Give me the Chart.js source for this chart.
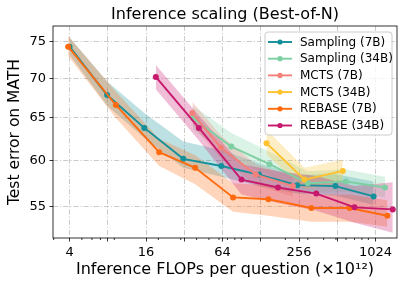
<!DOCTYPE html>
<html><head><meta charset="utf-8">
<script src="https://cdn.jsdelivr.net/npm/chart.js@4/dist/chart.umd.min.js"></script>
<style>html,body{margin:0;padding:0;background:#fff;}#wrap{width:407px;height:291px;}</style>
</head><body><div id="wrap"><canvas id="c" width="407" height="291"></canvas></div>
<script>
// ---- data ----
const seriesNames = ['Sampling (7B)','Sampling (34B)','MCTS (7B)','MCTS (34B)','REBASE (7B)','REBASE (34B)'];
const seriesColors = ['#13909a','#7fcfa5','#f4807a','#fdc22d','#ff6a0e','#c8186e'];

const samp7X  = [4, 7.9, 15.5, 31.4, 62.6, 124, 248, 495, 990];
const samp7Y  = [74.3, 67.85, 63.8, 60.2, 59.4, 58.45, 57.3, 57.2, 56.1];
const samp7Hi = [75.6, 69.6, 65.6, 62.2, 61.2, 59.7, 58.4, 58.5, 57.7];
const samp7Lo = [73.2, 66.5, 62.6, 59.2, 58.2, 57.2, 56.4, 56.2, 55.2];

const samp34X  = [37.5, 75, 150, 300, 600, 1217];
const samp34Y  = [65.0, 61.6, 59.6, 57.5, 57.7, 57.05];
const samp34Hi = [66.5, 63.2, 61.0, 58.8, 59.0, 58.2];
const samp34Lo = [63.6, 60.2, 58.4, 56.4, 56.6, 56.0];

const mcts7X  = [37, 62, 117, 229];
const mcts7Y  = [65.6, 61.5, 58.45, 57.2];
const mcts7Hi = [67.0, 62.9, 59.6, 58.3];
const mcts7Lo = [64.2, 60.2, 57.3, 56.1];

const mcts34X  = [142, 283, 566];
const mcts34Y  = [62.0, 57.9, 58.85];
const mcts34Hi = [63.6, 59.2, 60.1];
const mcts34Lo = [60.7, 56.9, 57.6];

const reb7X  = [3.9, 9.26, 20.3, 39, 77.5, 147, 320, 639, 1270];
const reb7Y  = [74.3, 66.6, 60.96, 59.2, 56.0, 55.8, 54.9, 54.9, 54.1];
const reb7Hi = [75.8, 68.3, 62.5, 60.6, 57.5, 57.3, 56.3, 56.3, 55.7];
const reb7Lo = [73.0, 65.0, 59.4, 57.4, 54.5, 54.1, 53.5, 53.5, 53.0];

const reb34X  = [19.1, 41.7, 90.2, 175, 350, 700, 1400];
const reb34Y  = [70.2, 63.8, 57.9, 57.05, 56.4, 54.96, 54.75];
const reb34Hi = [71.8, 65.3, 59.6, 58.8, 58.3, 57.2, 57.6];
const reb34Lo = [68.6, 62.3, 56.3, 55.4, 54.6, 53.4, 52.4];

const xTickValues = [4, 8, 16, 32, 64, 128, 256, 512, 1024];
const xTickLabels = ['4', '', '16', '', '64', '', '256', '', '1024'];
const xMinorTicks = [3, 5, 6, 7, 9, 20, 30, 40, 50, 60, 70, 80, 90, 200, 300, 400, 500, 600, 700, 800, 900];
const yTickValues = [55, 60, 65, 70, 75];
const yTickLabels = ['55', '60', '65', '70', '75'];

// ---- build ----
const allX = [samp7X, samp34X, mcts7X, mcts34X, reb7X, reb34X];
const allY = [samp7Y, samp34Y, mcts7Y, mcts34Y, reb7Y, reb34Y];
const allHi = [samp7Hi, samp34Hi, mcts7Hi, mcts34Hi, reb7Hi, reb34Hi];
const allLo = [samp7Lo, samp34Lo, mcts7Lo, mcts34Lo, reb7Lo, reb34Lo];
const pts = (xs, ys) => xs.map((x, i) => ({x, y: ys[i]}));
function rgba(hex, a){const n=parseInt(hex.slice(1),16);return `rgba(${n>>16&255},${n>>8&255},${n&255},${a})`;}

const datasets = [];
seriesNames.forEach((name, i) => {
  const c = seriesColors[i];
  datasets.push({label: name+' hi', data: pts(allX[i], allHi[i]), borderWidth: 0, pointRadius: 0, fill: false, order: 40 - 2*i, borderColor: 'transparent'});
  datasets.push({label: name+' lo', data: pts(allX[i], allLo[i]), borderWidth: 0, pointRadius: 0, fill: '-1', backgroundColor: rgba(c, 0.28), order: 40 - 2*i - 1, borderColor: 'transparent'});
});
seriesNames.forEach((name, i) => {
  const c = seriesColors[i];
  datasets.push({label: name, data: pts(allX[i], allY[i]), borderColor: c, backgroundColor: c, borderWidth: 1.9, pointRadius: 3, pointBorderWidth: 0, pointBackgroundColor: c, fill: false, order: 10 - i});
});

const font = 'DejaVu Sans';
const extras = {
  id: 'extras',
  afterDraw(chart) {
    const {ctx, chartArea: a, scales: {x}} = chart;
    ctx.save();
    ctx.strokeStyle = '#000'; ctx.lineWidth = 0.8;
    xMinorTicks.forEach(v => {
      const px = x.getPixelForValue(v);
      if (px < a.left || px > a.right) return;
      ctx.beginPath(); ctx.moveTo(px, a.bottom); ctx.lineTo(px, a.bottom + 2); ctx.stroke();
    });
    ctx.strokeRect(a.left, a.top, a.right - a.left, a.bottom - a.top);
    // legend
    const lx = a.right - 132, ly = a.top + 6, lw = 127, lh = 103;
    ctx.beginPath(); ctx.roundRect(lx, ly, lw, lh, 3);
    ctx.fillStyle = 'rgba(255,255,255,0.8)'; ctx.fill();
    ctx.strokeStyle = '#cccccc'; ctx.lineWidth = 1; ctx.stroke();
    ctx.font = `12px "${font}"`; ctx.textBaseline = 'middle'; ctx.textAlign = 'left';
    seriesNames.forEach((name, i) => {
      const ry = ly + 10 + i * 16.7;
      ctx.strokeStyle = seriesColors[i]; ctx.lineWidth = 1.9;
      ctx.beginPath(); ctx.moveTo(lx + 3, ry); ctx.lineTo(lx + 27, ry); ctx.stroke();
      ctx.fillStyle = seriesColors[i];
      ctx.beginPath(); ctx.arc(lx + 15, ry, 2.6, 0, Math.PI * 2); ctx.fill();
      ctx.fillStyle = '#000'; ctx.fillText(name, lx + 35, ry + 0.5);
    });
    ctx.restore();
  }
};

new Chart(document.getElementById('c'), {
  type: 'line',
  data: {datasets},
  plugins: [extras],
  options: {
    responsive: false, animation: false, devicePixelRatio: 1,
    layout: {padding: {left: 0, right: 10, top: 0, bottom: 0}},
    plugins: {
      legend: {display: false}, tooltip: {enabled: false},
      title: {display: true, text: 'Inference scaling (Best-of-N)', fullSize: false, color: '#000',
        font: {family: font, size: 16, weight: 'normal'}, padding: {top: 5.4, bottom: 1.4}}
    },
    scales: {
      x: {
        type: 'logarithmic', min: 2.963, max: 1512,
        afterBuildTicks: s => { s.ticks = xTickValues.map(v => ({value: v})); },
        afterFit: s => { s.height = 53; },
        ticks: {autoSkip: false, maxRotation: 0, padding: 3.5, color: '#000', font: {family: font, size: 13},
          callback: (v, i) => xTickLabels[i]},
        grid: {color: '#bcbcbc', lineWidth: 0.8, tickColor: '#000', tickLength: 3.5, tickWidth: 0.8, tickBorderDash: []},
        border: {display: false, dash: [5, 2, 1.2, 2]},
        title: {display: true, text: 'Inference FLOPs per question (×10¹²)', color: '#000',
          font: {family: font, size: 16}, padding: {top: 0, bottom: 11.5}}
      },
      y: {
        type: 'logarithmic', min: 51.89, max: 77.24,
        afterBuildTicks: s => { s.ticks = yTickValues.map(v => ({value: v})); },
        afterFit: s => { s.width = 53; },
        ticks: {autoSkip: false, padding: 3.5, color: '#000', font: {family: font, size: 13},
          callback: (v, i) => yTickLabels[i]},
        grid: {color: '#bcbcbc', lineWidth: 0.8, tickColor: '#000', tickLength: 3.5, tickWidth: 0.8, tickBorderDash: []},
        border: {display: false, dash: [5, 2, 1.2, 2]},
        title: {display: true, text: 'Test error on MATH', color: '#000',
          font: {family: font, size: 15.5}, padding: {top: 5.5, bottom: 0}}
      }
    }
  }
});
</script></body></html>
